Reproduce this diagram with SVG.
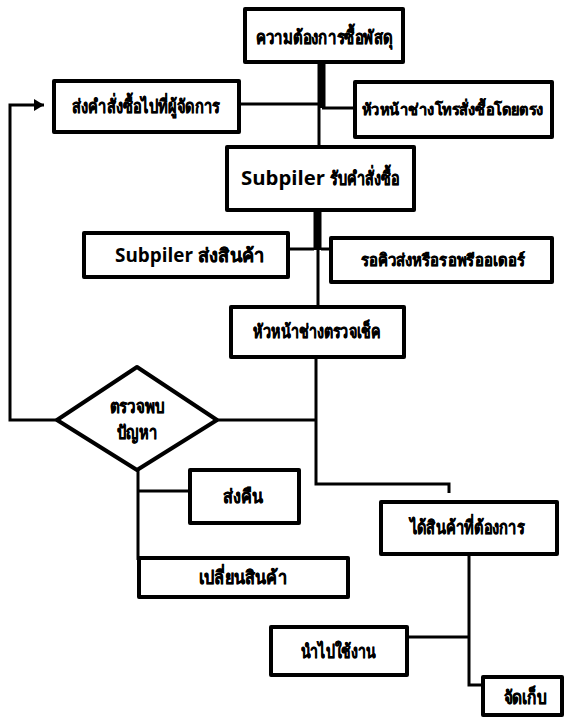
<svg xmlns="http://www.w3.org/2000/svg" width="564" height="717" viewBox="0 0 564 717">
<style>
.box{fill:#fff;stroke:#000;stroke-width:4;stroke-linejoin:round}
.ln{fill:none;stroke:#000;stroke-width:3;stroke-linejoin:miter}
.thick{fill:none;stroke:#000;stroke-width:8}
.th{font-family:"Liberation Sans","Noto Sans",sans-serif;font-weight:bold;font-size:19px;fill:#000;stroke:#000;stroke-width:0.4}
.sm{font-size:16.5px}
.xs{font-size:15.5px}
.en{font-family:"Open Sans","Liberation Sans",sans-serif;font-weight:bold;font-size:19px;fill:#000}
</style>
<defs>
<marker id="arr" markerWidth="10" markerHeight="12" refX="10" refY="6" orient="auto" markerUnits="userSpaceOnUse">
<path d="M0,0 L10,6 L0,12 Z" fill="#000"/>
</marker>
</defs>
<rect width="564" height="717" fill="#fff"/>
<g id="connectors">
<line class="thick" x1="321.5" y1="62" x2="321.5" y2="108"/>
<line class="ln" x1="239" y1="104" x2="321" y2="104"/>
<line class="ln" x1="322" y1="108" x2="355" y2="108"/>
<line class="ln" x1="319" y1="108" x2="319" y2="147"/>
<line class="thick" x1="317.5" y1="210" x2="317.5" y2="250"/>
<line class="ln" x1="288" y1="249" x2="314" y2="249"/>
<line class="ln" x1="321" y1="249" x2="331" y2="249"/>
<line class="ln" x1="318" y1="250" x2="318" y2="307"/>
<polyline class="ln" points="316,357 316,484 449,484 449,493"/>
<line class="ln" x1="217" y1="420" x2="316" y2="420"/>
<polyline class="ln" points="57,420 10,420 10,105 44,105" marker-end="url(#arr)"/>
<line class="ln" x1="138" y1="470" x2="138" y2="560"/>
<line class="ln" x1="138" y1="491" x2="190" y2="491"/>
<polyline class="ln" points="469,554 469,685 483,685"/>
<line class="ln" x1="407" y1="637" x2="469" y2="637"/>
</g>
<g id="n1">
<rect class="box" x="245" y="9" width="158" height="53"/>
<text class="th" x="324" y="44" text-anchor="middle" textLength="137" lengthAdjust="spacingAndGlyphs">ความต้องการซื้อพัสดุ</text>
</g>
<g id="n2">
<rect class="box" x="54" y="81" width="185" height="51"/>
<text class="th" x="146" y="113" text-anchor="middle" textLength="148" lengthAdjust="spacingAndGlyphs">ส่งคำสั่งซื้อไปที่ผู้จัดการ</text>
</g>
<g id="n3">
<rect class="box" x="355" y="82" width="197" height="55"/>
<text class="th xs" x="453" y="115" text-anchor="middle" textLength="182" lengthAdjust="spacingAndGlyphs">หัวหน้าช่างโทรสั่งซื้อโดยตรง</text>
</g>
<g id="n4">
<rect class="box" x="227" y="147" width="187" height="63"/>
<text class="en" x="241" y="185" textLength="84" lengthAdjust="spacingAndGlyphs">Subpiler</text>
<text class="th" x="330" y="185" textLength="69" lengthAdjust="spacingAndGlyphs">รับคำสั่งซื้อ</text>
</g>
<g id="n5">
<rect class="box" x="84" y="233" width="204" height="44"/>
<text class="en" x="115" y="262" textLength="78" lengthAdjust="spacingAndGlyphs">Subpiler</text>
<text class="th" x="198" y="262" textLength="67" lengthAdjust="spacingAndGlyphs">ส่งสินค้า</text>
</g>
<g id="n6">
<rect class="box" x="331" y="238" width="221" height="44"/>
<text class="th sm" x="443" y="266" text-anchor="middle" textLength="164" lengthAdjust="spacingAndGlyphs">รอคิวส่งหรือรอพรีออเดอร์</text>
</g>
<g id="n7">
<rect class="box" x="231" y="307" width="173" height="50"/>
<text class="th" x="317" y="338" text-anchor="middle" textLength="128" lengthAdjust="spacingAndGlyphs">หัวหน้าช่างตรวจเช็ค</text>
</g>
<g id="n8">
<polygon class="box" points="137,367 217,420 137,470 57,420"/>
<text class="th" x="137" y="413" text-anchor="middle" textLength="55" lengthAdjust="spacingAndGlyphs">ตรวจพบ</text>
<text class="th" x="137" y="439" text-anchor="middle" textLength="40" lengthAdjust="spacingAndGlyphs">ปัญหา</text>
</g>
<g id="n9">
<rect class="box" x="190" y="470" width="109" height="53"/>
<text class="th" x="243" y="503" text-anchor="middle" textLength="40" lengthAdjust="spacingAndGlyphs">ส่งคืน</text>
</g>
<g id="n10">
<rect class="box" x="139" y="558" width="209" height="39"/>
<text class="th" x="243" y="584" text-anchor="middle" textLength="88" lengthAdjust="spacingAndGlyphs">เปลี่ยนสินค้า</text>
</g>
<g id="n11">
<rect class="box" x="381" y="502" width="176" height="52"/>
<text class="th" x="467" y="534" text-anchor="middle" textLength="115" lengthAdjust="spacingAndGlyphs">ได้สินค้าที่ต้องการ</text>
</g>
<g id="n12">
<rect class="box" x="271" y="627" width="136" height="48"/>
<text class="th" x="338" y="658" text-anchor="middle" textLength="75" lengthAdjust="spacingAndGlyphs">นำไปใช้งาน</text>
</g>
<g id="n13">
<rect class="box" x="483" y="677" width="79" height="38"/>
<text class="th" x="525" y="704" text-anchor="middle" textLength="43" lengthAdjust="spacingAndGlyphs">จัดเก็บ</text>
</g>
</svg>
